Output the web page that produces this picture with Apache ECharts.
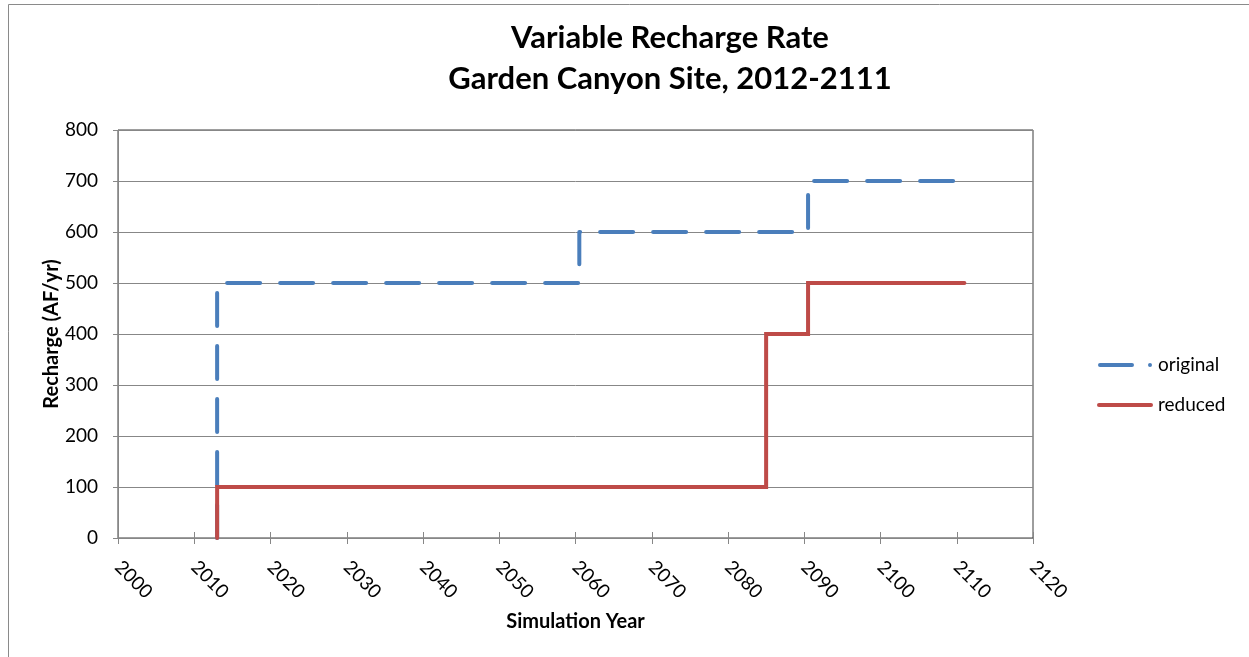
<!DOCTYPE html>
<html>
<head>
<meta charset="utf-8">
<title>Variable Recharge Rate</title>
<script src="https://cdn.jsdelivr.net/npm/echarts@6/dist/echarts.min.js"></script>
<style>
  html, body { margin: 0; padding: 0; background: #fff; }
  #chart { width: 1249px; height: 657px; }
</style>
</head>
<body>
<div id="chart"></div>
<script>
// Recharge schedules, stepped: each value holds until the next year listed
const originalYears = [2013, 2013, 2060.5, 2090.5, 2111];
const originalRecharge = [0, 500, 600, 700, 700];
const reducedYears = [2013, 2013, 2085, 2090.5, 2111];
const reducedRecharge = [0, 100, 400, 500, 500];

const yearTicks = { min: 2000, max: 2120, interval: 10 };
const rechargeTicks = { min: 0, max: 800, interval: 100 };

const pairs = (xs, ys) => xs.map((x, i) => [x, ys[i]]);
const plain = v => String(v);

const FONT = 'Lato, "Open Sans", "Noto Sans", sans-serif';
const AXIS_GREY = '#878787';
const BLUE = '#4a7ebb';
const RED = '#be4b48';

// legend keys: a dash followed by a dot, and a solid bar
const DASH_KEY = 'path://M2,0 L34,0 A2,2 0 0 1 34,4 L2,4 A2,2 0 0 1 2,0 Z M52,0 A2,2 0 0 1 52,4 A2,2 0 0 1 52,0 Z';
const SOLID_KEY = 'path://M2,0 L54,0 A2,2 0 0 1 54,4 L2,4 A2,2 0 0 1 2,0 Z';

const chart = echarts.init(document.getElementById('chart'), null, { renderer: 'canvas' });

chart.setOption({
  animation: false,
  backgroundColor: '#ffffff',
  title: {
    text: 'Variable Recharge Rate\nGarden Canyon Site, 2012-2111',
    left: 665,
    top: 12,
    textAlign: 'center',
    textStyle: {
      fontFamily: FONT,
      fontWeight: 'bold',
      fontSize: 31,
      lineHeight: 41,
      color: '#000'
    }
  },
  graphic: [{
    type: 'rect',
    silent: true,
    z: -10,
    shape: { x: 8.5, y: 4.5, width: 1400, height: 800 },
    style: { fill: 'none', stroke: '#8a8a8a', lineWidth: 1 }
  }],
  legend: {
    orient: 'vertical',
    left: 1092,
    top: 350,
    itemWidth: 56,
    itemHeight: 4,
    itemGap: 20,
    textStyle: { fontFamily: FONT, fontSize: 19, color: '#000', lineHeight: 20 },
    data: [
      { name: 'original', icon: DASH_KEY, itemStyle: { color: BLUE } },
      { name: 'reduced', icon: SOLID_KEY, itemStyle: { color: RED } }
    ]
  },
  grid: {
    left: 118,
    right: 216,
    top: 130,
    bottom: 119,
    show: true,
    borderColor: '#3c3c3c',
    borderWidth: 1,
    containLabel: false
  },
  xAxis: [{
    type: 'value',
    min: yearTicks.min,
    max: yearTicks.max,
    interval: yearTicks.interval,
    name: 'Simulation Year',
    nameLocation: 'middle',
    nameGap: 74,
    nameMoveOverlap: false,
    nameTextStyle: { fontFamily: FONT, fontWeight: 'bold', fontSize: 20, color: '#000' },
    axisLine: { show: true, lineStyle: { color: AXIS_GREY, width: 1 } },
    axisTick: { show: true, length: 6, inside: false, lineStyle: { color: AXIS_GREY } },
    splitLine: { show: false },
    axisLabel: {
      rotate: -45,
      margin: 26,
      formatter: plain,
      fontFamily: FONT,
      fontSize: 19,
      color: '#000'
    }
  }, {
    // upper half of the crossing x ticks
    type: 'value',
    position: 'bottom',
    min: yearTicks.min,
    max: yearTicks.max,
    interval: yearTicks.interval,
    axisLine: { show: false },
    axisTick: { show: true, length: 6, inside: true, lineStyle: { color: AXIS_GREY } },
    axisLabel: { show: false },
    splitLine: { show: false }
  }],
  yAxis: {
    type: 'value',
    min: rechargeTicks.min,
    max: rechargeTicks.max,
    interval: rechargeTicks.interval,
    name: 'Recharge (AF/yr)',
    nameLocation: 'middle',
    nameGap: 56,
    nameMoveOverlap: false,
    nameTextStyle: { fontFamily: FONT, fontWeight: 'bold', fontSize: 20, color: '#000' },
    axisLine: { show: true, lineStyle: { color: AXIS_GREY, width: 1 } },
    axisTick: { show: true, length: 5, lineStyle: { color: AXIS_GREY } },
    splitLine: { show: true, lineStyle: { color: AXIS_GREY, width: 1 } },
    axisLabel: {
      margin: 20,
      formatter: plain,
      fontFamily: FONT,
      fontSize: 19,
      color: '#000'
    }
  },
  series: [{
    name: 'original',
    type: 'line',
    step: 'end',
    showSymbol: false,
    symbol: 'none',
    color: BLUE,
    lineStyle: { color: BLUE, width: 4, type: [33, 20], cap: 'round', join: 'round' },
    z: 2,
    data: pairs(originalYears, originalRecharge)
  }, {
    name: 'reduced',
    type: 'line',
    step: 'end',
    showSymbol: false,
    symbol: 'none',
    color: RED,
    lineStyle: { color: RED, width: 4, type: 'solid', cap: 'round', join: 'miter' },
    z: 3,
    data: pairs(reducedYears, reducedRecharge)
  }]
});
</script>
</body>
</html>
